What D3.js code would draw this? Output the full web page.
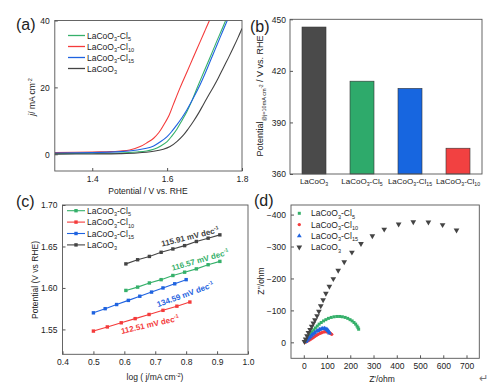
<!DOCTYPE html>
<html><head><meta charset="utf-8">
<script src="https://cdn.jsdelivr.net/npm/d3@7"></script>
<style>body{margin:0;background:#fff}svg{display:block}text{font-family:"Liberation Sans",Arial,sans-serif;fill:#222}</style>
</head><body><svg id="c" width="500" height="388"></svg>
<script>
// ---------- DATA ----------
// (a) LSV curves: potential (V vs RHE) and current density (mA cm-2)
const lsvNames = ["LaCoO_3-Cl_5","LaCoO_3-Cl_1_0","LaCoO_3-Cl_1_5","LaCoO_3"];
const lsvCl5V  = [1.30,1.40,1.475,1.52,1.545,1.564,1.583,1.600,1.613,1.626,1.640,1.653,1.667,1.680,1.693,1.706,1.720,1.733,1.745,1.757,1.765];
const lsvCl5J  = [0.2,0.3,0.4,0.7,1.0,1.5,2.5,3.8,5.5,7.5,10.2,12.8,16.2,19.8,23.3,26.7,30.4,33.9,37.0,40.2,42.3];
const lsvCl10V = [1.30,1.40,1.45,1.475,1.50,1.528,1.547,1.564,1.578,1.590,1.605,1.617,1.635,1.653,1.670,1.688,1.702,1.715,1.725];
const lsvCl10J = [0.5,0.7,0.8,1.0,1.3,2.3,3.5,4.8,6.5,8.6,11.6,15.0,20.0,24.6,29.0,33.6,37.2,40.5,43.0];
const lsvCl15V = [1.30,1.40,1.475,1.52,1.545,1.564,1.583,1.600,1.613,1.626,1.640,1.653,1.670,1.688,1.700,1.715,1.728,1.741,1.753,1.766,1.775];
const lsvCl15J = [0.4,0.5,0.8,1.3,1.8,2.5,3.8,5.3,6.9,8.8,11.0,13.3,16.8,20.8,23.8,27.8,31.3,34.8,38.0,41.4,43.8];
const lsvBareV = [1.30,1.40,1.475,1.52,1.564,1.590,1.608,1.626,1.644,1.657,1.670,1.684,1.697,1.710,1.724,1.737,1.750,1.764,1.777,1.789,1.800];
const lsvBareJ = [0.05,0.1,0.2,0.4,0.9,1.5,2.3,3.8,5.8,7.7,9.8,12.3,14.9,17.5,20.2,22.9,25.8,28.9,31.9,34.8,37.6];
const lsvTicksX = [1.4,1.6,1.8];
const lsvTicksY = [0,20,40];

// (b) overpotential at 10 mA cm-2 (mV)
const barCats = ["LaCoO_3","LaCoO_3-Cl_5","LaCoO_3-Cl_1_5","LaCoO_3-Cl_1_0"];
const barVals = [445.5,414,409.8,375];
const barTicksY = [360,390,420,450];

// (c) Tafel plots
const tafCl5X  = [0.605,0.643,0.681,0.719,0.757,0.795,0.833,0.871,0.909];
const tafCl5Y  = [1.597,1.601,1.606,1.610,1.615,1.619,1.623,1.628,1.632];
const tafCl10X = [0.500,0.545,0.590,0.635,0.680,0.725,0.770,0.812];
const tafCl10Y = [1.548,1.553,1.558,1.563,1.568,1.573,1.578,1.583];
const tafCl15X = [0.500,0.538,0.575,0.613,0.650,0.688,0.725,0.763,0.800];
const tafCl15Y = [1.570,1.575,1.580,1.585,1.590,1.595,1.600,1.605,1.610];
const tafBareX = [0.605,0.643,0.681,0.719,0.757,0.795,0.833,0.871,0.909];
const tafBareY = [1.629,1.634,1.638,1.643,1.647,1.651,1.656,1.660,1.664];
const tafSlopes = ["115.91","116.57","134.59","112.51"];
const tafTicksX = [0.4,0.5,0.6,0.7,0.8,0.9,1.0];
const tafTicksY = [1.55,1.60,1.65,1.70];

// (d) Nyquist plots Z' (ohm), Z'' (ohm)
const eisCl5Re  = [8,12,16,20,25,30,36,43,50,58,66,75,85,95,106,118,130,142,154,166,178,189,199,208,216,223,229,233,236];
const eisCl5Im  = [-2,-6,-11,-16,-21,-27,-33,-39,-45,-51,-57,-62,-67,-71,-75,-78,-80,-81,-81,-80,-78,-75,-71,-67,-62,-57,-51,-46,-41];
const eisCl10Re = [8,13,18,24,30,36,42,48,55,62,69,76,83,90,97,104,110,115,120];
const eisCl10Im = [-1,-3,-5,-7,-10,-13,-16,-19,-22,-25,-28,-30,-32,-33,-33,-32,-30,-28,-25];
const eisCl15Re = [8,12,17,22,28,34,40,47,54,61,68,75,82,89,95,100,104,108,111];
const eisCl15Im = [-2,-5,-9,-13,-17,-22,-26,-30,-34,-37,-40,-42,-43,-43,-42,-40,-37,-33,-29];
const eisBareRe = [3,8,14,20,27,34,41,48,57,65,73,83,95,110,127,148,174,207,246,295,346,408,471,536,597,657];
const eisBareIm = [-2,-10,-20,-30,-40,-50,-60,-70,-83,-97,-114,-133,-153,-175,-199,-225,-252,-282,-309,-333,-354,-370,-377,-376,-368,-351];
const eisTicksX = [0,100,200,300,400,500,600,700];
const eisTicksY = [0,-100,-200,-300,-400];

// ---------- STYLE ----------
const cGreen = "#35b06a", cRed = "#f43b3b", cBlue = "#1f63e0", cBlack = "#444";
const barFill = ["#4a4a4a","#2eaa6b","#1766e0","#f24141"];
const svg = d3.select("#c");
const FONT = "Liberation Sans, Arial, sans-serif";

// text with subscripts: "_x" means subscript char
function richText(sel, str, size) {
  sel.text(null);
  const tokens = [];
  str.replace(/_(.)|([^_]+)/g, (m, s, n) => { tokens.push(s !== undefined ? {t:s,sub:true} : {t:n,sub:false}); });
  const merged = [];
  tokens.forEach(tk => {
    const last = merged[merged.length-1];
    if (last && last.sub === tk.sub) last.t += tk.t; else merged.push({...tk});
  });
  let prevSub = false;
  merged.forEach(tk => {
    const ts = sel.append("tspan").text(tk.t);
    if (tk.sub) ts.attr("font-size", size*0.65).attr("dy", size*0.3);
    else if (prevSub) ts.attr("dy", -size*0.3);
    prevSub = tk.sub;
  });
}

function frame(x0,y0,x1,y1){
  svg.append("rect").attr("x",x0).attr("y",y0).attr("width",x1-x0).attr("height",y1-y0)
    .attr("fill","none").attr("stroke","#555").attr("stroke-width",0.9);
}
function axes(xs, ys, xt, yt, xfmt, yfmt, fs) {
  const [x0,x1] = xs.range(), [y1,y0] = ys.range();
  const gx = svg.append("g").attr("transform",`translate(0,${y1})`)
    .call(d3.axisBottom(xs).tickValues(xt).tickSizeInner(-3).tickSizeOuter(0).tickPadding(5).tickFormat(xfmt));
  const gy = svg.append("g").attr("transform",`translate(${x0},0)`)
    .call(d3.axisLeft(ys).tickValues(yt).tickSizeInner(-3).tickSizeOuter(0).tickPadding(5).tickFormat(yfmt));
  [gx,gy].forEach(g=>{ g.select(".domain").remove(); g.selectAll("line").attr("stroke","#555");
    g.selectAll("text").attr("font-size",fs).attr("font-family",FONT).attr("fill","#222"); });
  frame(x0,y0,x1,y1);
}
function panelLabel(t,x,y){ svg.append("text").attr("x",x).attr("y",y).attr("font-size",16).text(t); }

// ---------- (a) LSV ----------
const xa = d3.scaleLinear([1.3,1.8],[54.8,242]);
const ya = d3.scaleLinear([-5,40],[171,20.5]);
svg.append("clipPath").attr("id","clipA").append("rect").attr("x",54.8).attr("y",20.5).attr("width",242-54.8).attr("height",171-20.5);
const lsvSeries = [[lsvCl5V,lsvCl5J,cGreen],[lsvCl10V,lsvCl10J,cRed],[lsvCl15V,lsvCl15J,cBlue],[lsvBareV,lsvBareJ,cBlack]];
const lineA = d3.line().x(d=>xa(d[0])).y(d=>ya(d[1])).curve(d3.curveCatmullRom.alpha(0.5));
lsvSeries.forEach(([v,j,c])=>{
  svg.append("path").attr("clip-path","url(#clipA)").attr("d",lineA(v.map((d,i)=>[d,j[i]])))
    .attr("fill","none").attr("stroke",c).attr("stroke-width",1.1);
});
axes(xa,ya,lsvTicksX,lsvTicksY,d3.format(".1f"),d3.format("d"),8.5);
lsvSeries.forEach(([v,j,c],i)=>{
  const y = 35.5 + i*11;
  svg.append("line").attr("x1",68).attr("x2",85).attr("y1",y).attr("y2",y).attr("stroke",c).attr("stroke-width",1.3);
  svg.append("text").attr("x",87).attr("y",y+3).attr("font-size",8.5).call(s=>richText(s,lsvNames[i],8.5));
});
svg.append("text").attr("x",148).attr("y",194).attr("text-anchor","middle").attr("font-size",8.5).text("Potential / V vs. RHE");
svg.append("text").attr("transform","translate(35,97) rotate(-90)").attr("text-anchor","middle").attr("font-size",8.5)
  .call(s=>{ s.append("tspan").attr("font-style","italic").text("j");
    s.append("tspan").text("/ mA cm");
    s.append("tspan").attr("font-size",5.5).attr("dy",-3.5).text("-2"); });
panelLabel("(a)",16,30);

// ---------- (b) bars ----------
const xb = d3.scaleBand(barCats,[290,482]).paddingInner(0.5).paddingOuter(0.25);
const yb = d3.scaleLinear([360,450],[174,19.3]);
svg.selectAll(".bar").data(barVals).join("rect").attr("class","bar")
  .attr("x",(d,i)=>xb(barCats[i])).attr("width",xb.bandwidth())
  .attr("y",d=>yb(d)).attr("height",d=>174-yb(d))
  .attr("fill",(d,i)=>barFill[i]).attr("stroke","#333").attr("stroke-width",0.6);
barCats.forEach(c=>{
  svg.append("text").attr("x",xb(c)+xb.bandwidth()/2).attr("y",183.5).attr("text-anchor","middle").attr("font-size",8)
    .call(s=>richText(s,c,8));
});
const gby = svg.append("g").attr("transform","translate(290,0)")
  .call(d3.axisLeft(yb).tickValues(barTicksY).tickSizeInner(-3).tickSizeOuter(0).tickPadding(4));
gby.select(".domain").remove(); gby.selectAll("line").attr("stroke","#555");
gby.selectAll("text").attr("font-size",8.5).attr("font-family",FONT).attr("fill","#222");
frame(290,19.3,482,174);
svg.append("text").attr("transform","translate(263,96) rotate(-90)").attr("text-anchor","middle").attr("font-size",9)
  .call(s=>{ s.append("tspan").text("Potential");
    s.append("tspan").attr("font-size",5.5).attr("dy",2.5).text("@j=10mA cm");
    s.append("tspan").attr("font-size",4.5).attr("dy",-3).text("-2");
    s.append("tspan").attr("dy",0.5).text(" / V vs. RHE"); });
panelLabel("(b)",250,32);

// ---------- (c) Tafel ----------
const xc = d3.scaleLinear([0.4,1.0],[62.5,248]);
const yc = d3.scaleLinear([1.52,1.70],[354.3,205]);
const tafSeries = [[tafCl5X,tafCl5Y,cGreen],[tafCl10X,tafCl10Y,cRed],[tafCl15X,tafCl15Y,cBlue],[tafBareX,tafBareY,cBlack]];
const lineC = d3.line().x(d=>xc(d[0])).y(d=>yc(d[1]));
tafSeries.forEach(([xx,yy,c])=>{
  const pts = xx.map((d,i)=>[d,yy[i]]);
  svg.append("path").attr("d",lineC(pts)).attr("fill","none").attr("stroke",c).attr("stroke-width",1.1);
  svg.append("g").selectAll("rect").data(pts).join("rect")
    .attr("x",d=>xc(d[0])-1.7).attr("y",d=>yc(d[1])-1.7).attr("width",3.4).attr("height",3.4).attr("fill",c);
});
axes(xc,yc,tafTicksX,tafTicksY,d3.format(".1f"),d3.format(".2f"),8.5);
tafSeries.forEach(([xx,yy,c],i)=>{
  const y = 210.7 + i*11.4;
  svg.append("line").attr("x1",67).attr("x2",85).attr("y1",y).attr("y2",y).attr("stroke",c).attr("stroke-width",1.1);
  svg.append("rect").attr("x",76-1.7).attr("y",y-1.7).attr("width",3.4).attr("height",3.4).attr("fill",c);
  svg.append("text").attr("x",87).attr("y",y+3).attr("font-size",8.5).call(s=>richText(s,lsvNames[i],8.5));
});
// slope annotations: [text, color, anchor x (data), anchor y (data), angle]
const slopeLab = [[tafSlopes[0],cBlack,0.815,1.6585,-14],[tafSlopes[1],cGreen,0.848,1.6305,-16],[tafSlopes[2],cBlue,0.80,1.589,-20],[tafSlopes[3],cRed,0.685,1.5525,-13]];
slopeLab.forEach(([t,c,lx,ly,a])=>{
  svg.append("text").attr("transform",`translate(${xc(lx)},${yc(ly)}) rotate(${a})`).attr("text-anchor","middle")
    .attr("font-size",8).attr("font-weight","bold").style("fill",c)
    .call(s=>{ s.append("tspan").text(t+" mV dec"); s.append("tspan").attr("font-size",5.2).attr("dy",-3.3).text("-1"); });
});
svg.append("text").attr("x",155).attr("y",380).attr("text-anchor","middle").attr("font-size",8.5)
  .call(s=>{ s.append("tspan").text("log ( j/mA cm"); s.append("tspan").attr("font-size",5.5).attr("dy",-3.5).text("-2");
    s.append("tspan").attr("dy",3.5).text(")"); });
svg.append("text").attr("transform","translate(38,280) rotate(-90)").attr("text-anchor","middle").attr("font-size",8.5)
  .text("Potential (V vs RHE)");
panelLabel("(c)",16,207);

// ---------- (d) Nyquist ----------
const xd = d3.scaleLinear([-55,755],[291,479.3]);
const yd = d3.scaleLinear([50,-430],[358.3,205]);
const sq = d3.symbol().type(d3.symbolSquare).size(9);
const ci = d3.symbol().type(d3.symbolCircle).size(9);
const tu = d3.symbol().type(d3.symbolTriangle).size(10);
const td = d3.symbol().type(d3.symbolTriangle).size(14);
const eisSeries = [[eisCl5Re,eisCl5Im,cGreen,sq,0],[eisCl10Re,eisCl10Im,cRed,ci,0],[eisCl15Re,eisCl15Im,cBlue,tu,0],[eisBareRe,eisBareIm,cBlack,td,180]];
eisSeries.forEach(([re,im,c,sym,rot])=>{
  svg.append("g").selectAll("path").data(re.map((d,i)=>[d,im[i]])).join("path")
    .attr("d",sym).attr("transform",d=>`translate(${xd(d[0])},${yd(d[1])}) rotate(${rot})`).attr("fill",c);
});
axes(xd,yd,eisTicksX,eisTicksY,d3.format("d"),d3.format("d"),8.5);
eisSeries.forEach(([re,im,c,sym,rot],i)=>{
  const y = 213.3 + i*11.3;
  svg.append("path").attr("d",sym).attr("transform",`translate(299.3,${y}) rotate(${rot})`).attr("fill",c);
  svg.append("text").attr("x",311).attr("y",y+3).attr("font-size",8.5).call(s=>richText(s,lsvNames[i],8.5));
});
svg.append("text").attr("x",382).attr("y",382).attr("text-anchor","middle").attr("font-size",8.5).text("Z'/ohm");
svg.append("text").attr("transform","translate(264,281) rotate(-90)").attr("text-anchor","middle").attr("font-size",8.5).text("Z''/ohm");
panelLabel("(d)",254,206);
svg.append("text").attr("x",479).attr("y",382).attr("font-size",11).style("fill","#777").text("\u21B5");
</script></body></html>
